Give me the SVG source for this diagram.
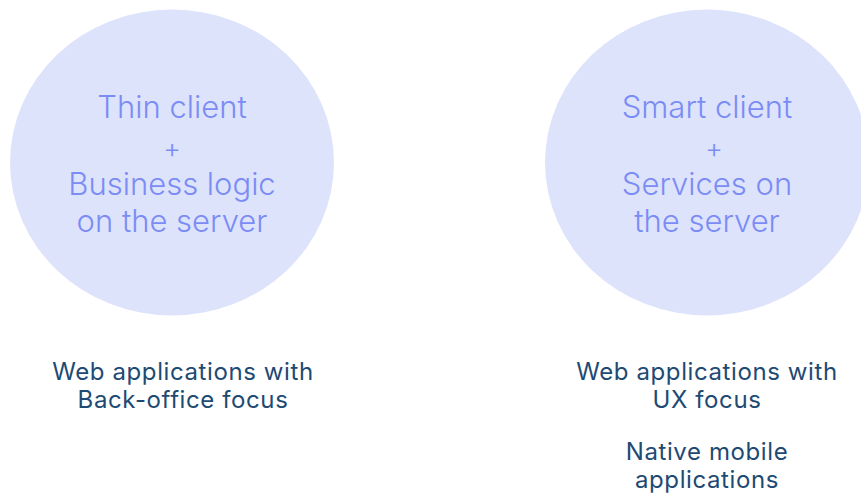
<svg xmlns="http://www.w3.org/2000/svg" width="861" height="494" viewBox="0 0 861 494">
<style>
.bub{fill:#dee3fc}
.in{font-family:Inter,"Noto Sans",sans-serif;font-weight:300;fill:#7b8cf5;text-anchor:middle;font-size:31px}
.plus{font-size:27px}
.lab{font-family:Inter,"Noto Sans",sans-serif;font-weight:400;fill:#1e4a73;text-anchor:middle;font-size:24px;letter-spacing:0.6px}
</style>
<rect width="861" height="494" fill="#ffffff"/>
<g id="node-thin">
<ellipse class="bub" cx="172" cy="162.5" rx="162" ry="153"/>
<text class="in" x="172" y="118">Thin client</text>
<text class="in plus" x="172" y="158">+</text>
<text class="in" x="172" y="195">Business logic</text>
<text class="in" x="172" y="232">on the server</text>
</g>
<g id="node-smart">
<ellipse class="bub" cx="707" cy="162.5" rx="162" ry="153"/>
<text class="in" x="707" y="118">Smart client</text>
<text class="in plus" x="714" y="158">+</text>
<text class="in" x="707" y="195">Services on</text>
<text class="in" x="707" y="232">the server</text>
</g>
<g id="label-left">
<text class="lab" x="183" y="380">Web applications with</text>
<text class="lab" x="183" y="408">Back-office focus</text>
</g>
<g id="label-right">
<text class="lab" x="707" y="380">Web applications with</text>
<text class="lab" x="707" y="408">UX focus</text>
<text class="lab" x="707" y="460">Native mobile</text>
<text class="lab" x="707" y="488">applications</text>
</g>
<g id="connectors"></g>
</svg>
